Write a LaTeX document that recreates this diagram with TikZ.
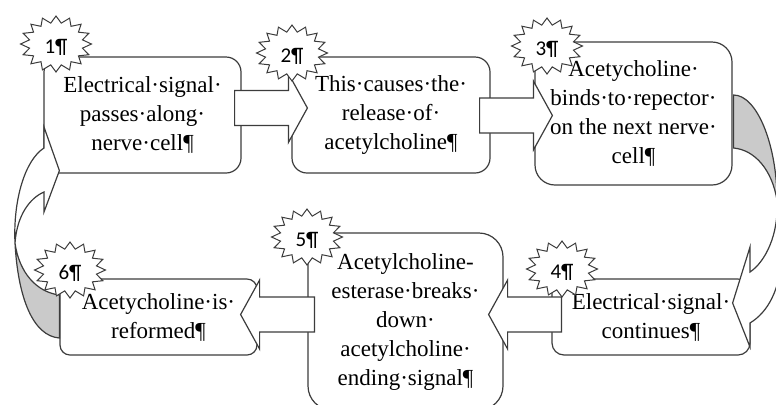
\documentclass[tikz,border=0pt]{standalone}
\usepackage{fontspec}
\setmainfont{Liberation Serif}
\newfontfamily\numfont{Carlito}
\usetikzlibrary{calc}
\definecolor{edgegray}{HTML}{3C3C3C}
\definecolor{backgray}{HTML}{CACACA}
\tikzset{
  stagebox/.style={draw=edgegray, fill=white, line width=0.6pt, align=center, inner sep=0pt,
    font=\fontsize{11.5}{14.5}\selectfont, text=black},
  flowarrow/.style={draw=edgegray, fill=white, line width=0.6pt, line join=miter},
  bandback/.style={draw=edgegray, fill=backgray, line width=0.6pt},
  bandfront/.style={draw=edgegray, fill=white, line width=0.6pt},
  burstline/.style={draw=edgegray, fill=white, line width=0.5pt},
  burstlabel/.style={inner sep=0pt, yshift=-1.5pt, font=\numfont\fontsize{10.5}{11}\selectfont}
}
% block arrow from shaft start #1 to tip #2
\newcommand\rightblock[2]{%
  \draw[flowarrow] let \p1=(#1), \p2=(#2) in
    (\x1,\y1+8.75pt) -- (\x2-9.5pt,\y1+8.75pt) -- (\x2-9.5pt,\y1+17.25pt) -- (\x2,\y1)
    -- (\x2-9.5pt,\y1-17.25pt) -- (\x2-9.5pt,\y1-8.75pt) -- (\x1,\y1-8.75pt) -- cycle;}
\newcommand\leftblock[2]{%
  \draw[flowarrow] let \p1=(#1), \p2=(#2) in
    (\x1,\y1+8.75pt) -- (\x2+9.5pt,\y1+8.75pt) -- (\x2+9.5pt,\y1+17.25pt) -- (\x2,\y1)
    -- (\x2+9.5pt,\y1-17.25pt) -- (\x2+9.5pt,\y1-8.75pt) -- (\x1,\y1-8.75pt) -- cycle;}
% numbered starburst
\newcommand\burst[3]{%
  \draw[burstline, shift={(#2)}] plot[samples=33, domain=0:32, variable=\k]
    ({cos(\k*11.25)*35.5*(1-0.24*mod(\k,2))}, {sin(\k*11.25)*28*(1-0.24*mod(\k,2))}) -- cycle;
  \node[burstlabel] (#1) at (#2) {#3};}

\begin{document}
\begin{tikzpicture}[x=0.5pt, y=-0.5pt]
\useasboundingbox (0,0) rectangle (776,404);
% stages
\node[stagebox, minimum width=98.5pt, minimum height=58pt, rounded corners=7.5pt] (s1) at (142.5,115) {Electrical·signal·\\passes·along·\\nerve·cell¶};
\node[stagebox, minimum width=99pt, minimum height=58pt, rounded corners=7.5pt] (s2) at (391,115) {This·causes·the·\\release·of·\\acetylcholine¶};
\node[stagebox, minimum width=98.5pt, minimum height=71.5pt, rounded corners=10pt] (s3) at (633.5,113.5) {Acetycholine·\\binds·to·repector·\\on the next nerve·\\cell¶};
\node[stagebox, minimum width=99pt, minimum height=38pt, rounded corners=6pt] (s4) at (651,317) {Electrical·signal·\\continues¶};
\node[stagebox, minimum width=97.5pt, minimum height=88.5pt, rounded corners=12pt] (s5) at (405.5,321.5) {Acetylcholine-\\esterase·breaks·\\down·\\acetylcholine·\\ending·signal¶};
\node[stagebox, minimum width=98.5pt, minimum height=38pt, rounded corners=5pt] (s6) at (158.5,317) {Acetycholine·is·\\reformed¶};
% straight steps
\rightblock{$(s1.east)+(-7,-7)$}{$(s2.west)+(16,-7)$}
\rightblock{$(s2.east)+(-11,0.5)$}{$(s3.west)+(18,2)$}
\leftblock{$(s4.west)+(10,-2.5)$}{$(s5.east)+(-15,-7)$}
\leftblock{$(s5.west)+(7,-7)$}{$(s6.east)+(-17,-2.5)$}
% turning arrows
\coordinate (ra) at ($(s3.east)+(1,-18.5)$);
\coordinate (rb) at ($(s3.east)+(1,34.5)$);
\coordinate (rt) at ($(s4.east)+(-18,-14)$);
\coordinate (la) at ($(s6.west)+(0,21)$);
\coordinate (lb) at ($(s6.west)+(0,-22)$);
\coordinate (lt) at ($(s1.south west)+(16,-3)$);
\draw[bandback] (ra) .. controls (757,95) and (777,145) .. (777,200)
  .. controls (772,170) and (755,150) .. (rb) -- cycle;
\draw[bandfront] (777,200) .. controls (779,235) and (765,262) .. (750,272) -- (750,247) -- (rt)
  -- (750,347) -- (750,323) .. controls (768,312) and (780,290) .. (782,255)
  .. controls (783,230) and (779,210) .. (777,200) -- cycle;
\draw[bandback] (15,243) .. controls (18,298) and (33,336) .. (la) -- (lb)
  .. controls (36,292) and (19,272) .. (15,243) -- cycle;
\draw[bandfront] (15,243) .. controls (13,200) and (25,160) .. (44,148) -- (44,127) -- (lt)
  -- (44,212) -- (44,192) .. controls (30,198) and (17,215) .. (15,243) -- cycle;
% numbers
\burst{n1}{56,44}{1¶}
\burst{n2}{292,53}{2¶}
\burst{n3}{547,46}{3¶}
\burst{n4}{562,269}{4¶}
\burst{n5}{307,237}{5¶}
\burst{n6}{70,270}{6¶}
\end{tikzpicture}
\end{document}
